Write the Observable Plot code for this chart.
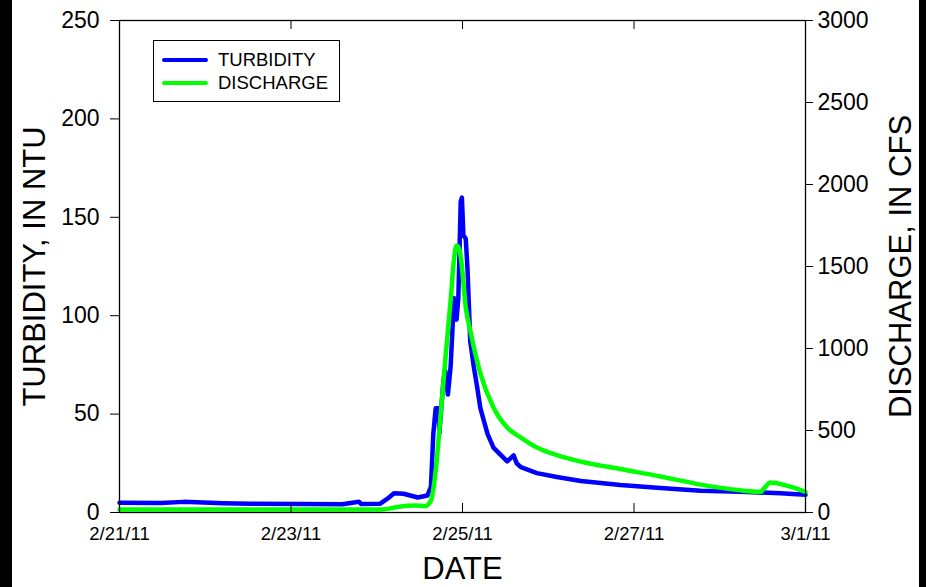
<!DOCTYPE html>
<html>
<head>
<meta charset="utf-8">
<script src="https://cdn.jsdelivr.net/npm/d3@7"></script>
<script src="https://cdn.jsdelivr.net/npm/@observablehq/plot@0.6"></script>
<style>
  html, body { margin: 0; padding: 0; background: #000; }
  #wrap { position: relative; margin-left: 12px; width: 907px; height: 587px; background: #fff; font-family: "Liberation Sans", Arial, sans-serif; }
  #legend { position: absolute; left: 141px; top: 40px; width: 185px; height: 60px; border: 1px solid #000; background: #fff; }
  .row { position: absolute; left: 8px; height: 20px; display: flex; align-items: center; font-size: 18.5px; color: #000; }
  .sw { display: inline-block; width: 46px; height: 4.5px; border-radius: 3px; margin-right: 10px; }
</style>
</head>
<body>
<div id="wrap">
  <div id="legend">
    <div class="row" style="top:9px"><span class="sw" style="background:#0000ff"></span>TURBIDITY</div>
    <div class="row" style="top:32px"><span class="sw" style="background:#00ff00"></span>DISCHARGE</div>
  </div>
</div>
<script>
// Turbidity (NTU), left axis
const turbTimes = ["2011-02-21T00:00","2011-02-21T11:30","2011-02-21T18:00","2011-02-22T05:00","2011-02-22T12:45","2011-02-23T02:40","2011-02-23T14:24","2011-02-23T19:00","2011-02-23T19:40","2011-02-24T01:00","2011-02-24T03:00","2011-02-24T04:50","2011-02-24T07:30","2011-02-24T09:40","2011-02-24T11:30","2011-02-24T14:10","2011-02-24T15:10","2011-02-24T15:50","2011-02-24T16:30","2011-02-24T17:20","2011-02-24T17:30","2011-02-24T18:40","2011-02-24T19:10","2011-02-24T19:55","2011-02-24T20:40","2011-02-24T21:10","2011-02-24T21:35","2011-02-24T22:20","2011-02-24T22:50","2011-02-24T23:30","2011-02-24T23:50","2011-02-25T00:15","2011-02-25T00:55","2011-02-25T01:25","2011-02-25T01:40","2011-02-25T02:10","2011-02-25T03:10","2011-02-25T04:05","2011-02-25T05:00","2011-02-25T07:00","2011-02-25T08:40","2011-02-25T12:30","2011-02-25T14:20","2011-02-25T15:10","2011-02-25T16:20","2011-02-25T20:50","2011-02-26T02:25","2011-02-26T09:10","2011-02-26T20:10","2011-02-27T07:25","2011-02-27T18:40","2011-02-28T05:45","2011-02-28T17:00","2011-03-01T00:00"];
const turbValues = [5.0,4.8,5.4,4.7,4.5,4.3,4.2,5.5,4.3,4.5,7,9.8,9.5,8.5,7.6,8.6,13,40,53,53,40,67,72,60,74,92,109,98,109,158,160,141,139,123,111,87,74,64,53,40,33,26,29,25,23,20,18,16,14,12.5,11,10.5,9.8,9];

// Discharge (CFS), right axis
const disTimes = ["2011-02-21T00:00","2011-02-24T01:00","2011-02-24T03:50","2011-02-24T06:40","2011-02-24T10:50","2011-02-24T13:40","2011-02-24T15:10","2011-02-24T16:30","2011-02-24T17:45","2011-02-24T19:10","2011-02-24T20:40","2011-02-24T21:35","2011-02-24T22:20","2011-02-24T23:00","2011-02-24T23:30","2011-02-25T00:55","2011-02-25T02:10","2011-02-25T05:00","2011-02-25T08:40","2011-02-25T12:30","2011-02-25T16:20","2011-02-25T20:50","2011-02-26T02:25","2011-02-26T09:10","2011-02-26T20:10","2011-02-27T07:25","2011-02-27T18:40","2011-02-28T05:45","2011-02-28T11:30","2011-02-28T12:30","2011-02-28T14:10","2011-02-28T15:40","2011-02-28T18:30","2011-02-28T22:30","2011-03-01T00:00"];
const disValues = [18,18,25,37,42,40,73,256,560,927,1290,1537,1628,1610,1560,1250,1110,848,640,518,457,396,350,310,265,220,170,135,126,150,183,180,165,138,125];

const yLeftTicks = [0,50,100,150,200,250];
const yRightTicks = [0,500,1000,1500,2000,2500,3000];
const xTickDates = ["2011-02-21","2011-02-23","2011-02-25","2011-02-27","2011-03-01"];
const xInnerTicks = ["2011-02-23","2011-02-25","2011-02-27"];

const RATIO = 3000 / 250;
const parse = s => new Date(s + (s.length > 10 ? ":00Z" : "T00:00:00Z"));
const turb = turbTimes.map((t, i) => ({date: parse(t), v: turbValues[i]}));
const dis = disTimes.map((t, i) => ({date: parse(t), v: disValues[i] / RATIO}));
const xt = xTickDates.map(parse);
const xi = xInnerTicks.map(parse);
const fmt = d => `${d.getUTCMonth() + 1}/${d.getUTCDate()}/11`;
const FONT = '"Liberation Sans", Arial, sans-serif';

const chart = Plot.plot({
  width: 907,
  height: 587,
  marginLeft: 107,
  marginRight: 114,
  marginTop: 20,
  marginBottom: 75,
  style: {fontFamily: FONT, color: "#000", background: "transparent", overflow: "visible"},
  x: {type: "utc", domain: [parse("2011-02-21"), parse("2011-03-01")]},
  y: {domain: [0, 250]},
  marks: [
    Plot.lineY(turb, {x: "date", y: "v", stroke: "#0000ff", strokeWidth: 4.5, strokeLinejoin: "round"}),
    Plot.lineY(dis, {x: "date", y: "v", stroke: "#00ff00", strokeWidth: 4.5, curve: "monotone-x"}),
    Plot.frame({stroke: "#000", strokeWidth: 1.3}),
    Plot.ruleX(xi, {x: d => d, y1: 0, y2: 0, insetTop: -9, stroke: "#000"}),
    Plot.ruleX(xi, {x: d => d, y1: 250, y2: 250, insetBottom: -9, stroke: "#000"}),
    Plot.axisY(yLeftTicks, {anchor: "left", tickSize: 9, tickPadding: 11, fontSize: 23, label: null}),
    Plot.axisY(yRightTicks.map(v => v / RATIO), {anchor: "right", tickSize: 7, tickPadding: 5, fontSize: 23, label: null, tickFormat: d => String(Math.round(d * RATIO))}),
    Plot.axisX(xt, {anchor: "bottom", tickSize: 0, tickPadding: 14, fontSize: 18.5, label: null, tickFormat: fmt}),
    Plot.text(["TURBIDITY, IN NTU"], {frameAnchor: "left", dx: -84, rotate: -90, textAnchor: "middle", lineAnchor: "middle", fontSize: 31, fill: "#000"}),
    Plot.text(["DISCHARGE, IN CFS"], {frameAnchor: "right", dx: 96, rotate: -90, textAnchor: "middle", lineAnchor: "middle", fontSize: 31, fill: "#000"}),
    Plot.text(["DATE"], {frameAnchor: "bottom", dy: 57, lineAnchor: "middle", textAnchor: "middle", fontSize: 31, fill: "#000"})
  ]
});
document.getElementById("wrap").insertBefore(chart, document.getElementById("legend"));
</script>
</body>
</html>
